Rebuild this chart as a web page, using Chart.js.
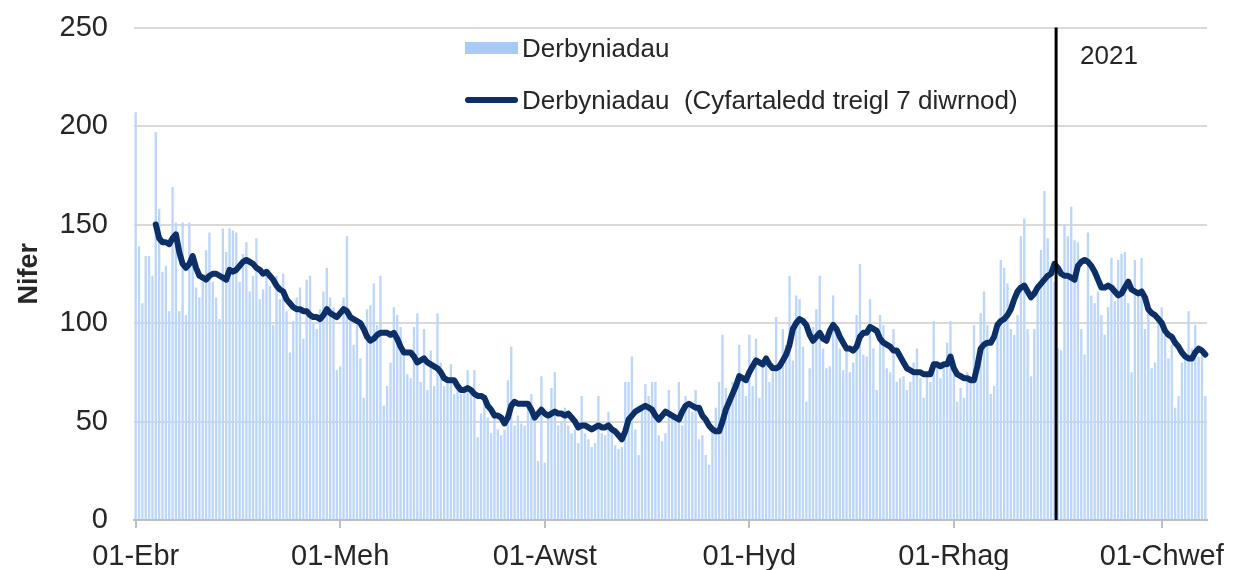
<!DOCTYPE html>
<html>
<head>
<meta charset="utf-8">
<title>Derbyniadau</title>
<script src="https://cdn.jsdelivr.net/npm/chart.js@4.4.1/dist/chart.umd.min.js"></script>
<style>
  body{margin:0;background:#fff;font-family:"Liberation Sans",Arial,sans-serif}
  #wrap{position:relative;width:1233px;height:570px}
  .lg{position:absolute;left:522px;font-size:26px;line-height:30px;color:#262626;white-space:pre}
  .sw{position:absolute;left:465px;width:53px}
</style>
</head>
<body>
<div id="wrap">
  <canvas id="chart" width="1233" height="570"></canvas>
  <div class="sw" style="top:42px;height:12px;background:#a9c9f6"></div>
  <div class="lg" style="top:33px">Derbyniadau</div>
  <div class="sw" style="top:97px;height:6px;background:#0b2f66;border-radius:3px"></div>
  <div class="lg" style="top:85px">Derbyniadau  (Cyfartaledd treigl 7 diwrnod)</div>
</div>
<script>
// derbyniadau dyddiol, 01-Ebr 2020 -> 14-Chwef 2021
const admissions = [
  207,139,110,134,134,124,197,158,126,129,106,169,151,106,151,104,151,135,118,113,
  121,137,146,121,113,102,148,136,148,147,146,121,135,141,116,124,143,112,117,124,
  119,99,124,112,125,106,85,101,113,118,92,122,124,100,97,107,116,128,113,108,
  76,78,113,144,106,89,99,82,62,107,109,120,99,124,58,68,80,108,104,98,
  86,74,72,98,105,70,97,66,86,68,105,80,68,70,79,64,68,64,68,76,
  67,76,42,54,63,52,44,53,46,43,46,71,88,48,53,49,48,60,64,51,
  30,73,29,53,67,75,48,50,57,48,44,46,39,63,44,41,37,39,63,44,
  43,55,48,38,36,37,70,70,83,46,33,57,69,63,70,70,43,40,44,66,
  53,50,70,48,63,57,55,66,41,43,33,28,48,57,70,94,67,63,70,67,
  89,70,63,94,68,92,62,80,83,70,75,103,80,97,89,124,81,114,112,88,
  60,77,98,107,124,87,77,78,114,97,87,76,87,75,80,104,130,84,83,112,
  87,66,104,99,77,75,97,70,72,73,66,70,80,87,72,62,73,70,101,80,
  72,78,90,101,81,60,67,62,75,70,99,80,105,116,99,64,68,97,132,128,
  120,97,94,104,144,153,97,73,97,118,137,167,143,124,121,87,86,150,144,159,
  142,141,97,84,146,114,110,116,104,94,108,133,111,132,135,136,110,75,132,114,
  133,97,110,77,80,101,108,94,82,89,57,63,80,82,106,87,99,83,84,63
];

// cyfartaledd treigl 7 diwrnod, yn dechrau ar y 7fed diwrnod
const avgStart = 6;
const rollingAvg = [
  150,143,141,141,140,143,145,136,130,128,130,134,128,124,123,122,124,125,125,124,
  123,122,127,126,127,129,131,132,131,130,128,127,125,126,124,122,119,117,116,112,
  110,108,107,107,106,106,104,103,103,102,104,107,105,104,103,105,107,106,103,102,
  101,100,97,93,91,92,94,95,95,95,94,95,92,88,85,85,85,83,80,81,
  82,80,79,78,77,75,72,71,71,71,68,66,66,67,66,64,63,63,62,58,
  56,53,53,52,49,52,58,60,59,59,59,59,56,52,54,56,54,53,54,55,
  54,54,53,54,52,50,47,48,48,47,46,47,48,47,47,48,46,45,43,41,
  45,51,53,55,56,57,58,57,56,53,51,53,55,54,53,52,51,55,58,59,
  58,57,57,53,51,48,46,45,45,50,56,60,64,68,73,72,71,75,78,81,
  80,79,82,79,77,77,78,81,84,89,97,100,102,101,99,94,91,93,95,92,
  91,96,99,97,93,90,87,87,86,88,93,95,95,98,97,96,92,90,89,88,
  86,86,83,80,77,76,75,75,75,74,74,74,79,79,78,79,79,83,77,74,
  73,72,72,71,71,78,87,89,90,90,93,99,101,102,104,107,112,116,118,119,
  116,113,115,118,120,122,124,125,130,128,125,124,124,123,122,129,131,132,131,129,
  126,122,118,118,119,118,116,114,115,118,121,117,116,115,116,113,107,105,104,102,
  100,96,94,93,90,88,85,83,82,82,85,87,86,84
];

const monthNames = ['Ion','Chwef','Maw','Ebr','Mai','Meh','Gorff','Awst','Medi','Hyd','Tach','Rhag'];
const tickLabels = ['01-Ebr','01-Meh','01-Awst','01-Hyd','01-Rhag','01-Chwef'];
const yearLabel = '2021';

// labels: un i bob diwrnod
const labels = [];
const d0 = new Date(2020, 3, 1);
for (let i = 0; i < admissions.length; i++) {
  const d = new Date(d0.getFullYear(), d0.getMonth(), d0.getDate() + i);
  labels.push(String(d.getDate()).padStart(2,'0') + '-' + monthNames[d.getMonth()]);
}
const yearIndex = labels.indexOf('01-Ion');
const avgData = new Array(avgStart).fill(null).concat(rollingAvg);

// llinell ddu rhwng 31-Rhag a 01-Ion
const yearLine = {
  id: 'yearLine',
  afterDatasetsDraw(chart){
    const ctx = chart.ctx;
    const x = chart.scales.x.getPixelForValue(yearIndex - 0.5);
    const {top, bottom} = chart.chartArea;
    ctx.save();
    ctx.strokeStyle = '#000';
    ctx.lineWidth = 3;
    ctx.beginPath();
    ctx.moveTo(x, top);
    ctx.lineTo(x, bottom);
    ctx.stroke();
    ctx.fillStyle = '#262626';
    ctx.font = '26px "Liberation Sans", Arial, sans-serif';
    ctx.textBaseline = 'middle';
    ctx.fillText(yearLabel, x + 24, top + 29);
    ctx.restore();
  }
};

Chart.defaults.font.family = '"Liberation Sans", Arial, sans-serif';
Chart.defaults.color = '#262626';

new Chart(document.getElementById('chart'), {
  type: 'bar',
  data: {
    labels: labels,
    datasets: [
      {type:'line', label:'Derbyniadau  (Cyfartaledd treigl 7 diwrnod)', data:avgData,
       borderColor:'#0b2f66', borderWidth:6, pointRadius:0, tension:0,
       borderJoinStyle:'round', borderCapStyle:'round', order:0},
      {label:'Derbyniadau', data:admissions, backgroundColor:'#bcd6fa',
       barPercentage:0.7, categoryPercentage:1.0, order:1}
    ]
  },
  options: {
    responsive:false,
    animation:false,
    devicePixelRatio:1,
    layout:{padding:{left:12, right:26, top:27.5, bottom:0}},
    plugins:{legend:{display:false}, tooltip:{enabled:false}},
    scales:{
      x:{
        afterFit(s){ s.height = 50; },
        grid:{drawOnChartArea:false, offset:false, tickLength:8, lineWidth:2,
          color: c => tickLabels.includes(labels[c.index]) ? '#bfbfbf' : 'rgba(0,0,0,0)'},
        border:{color:'#bfbfbf', width:2},
        ticks:{autoSkip:false, maxRotation:0, padding:12, font:{size:29}, color:'#262626',
          callback:(v,i) => tickLabels.includes(labels[i]) ? labels[i] : ''}
      },
      y:{
        min:0, max:250,
        afterFit(s){ s.width = 122; s.paddingTop = 0; s.paddingBottom = 0; },
        grid:{color:'#d9d9d9', lineWidth:2, drawTicks:false},
        border:{display:false},
        ticks:{stepSize:50, padding:26, font:{size:29}, color:'#262626'},
        title:{display:true, text:'Nifer', font:{size:27, weight:'bold'}, color:'#262626', padding:{top:1, bottom:0}}
      }
    }
  },
  plugins:[yearLine]
});
</script>
</body>
</html>
